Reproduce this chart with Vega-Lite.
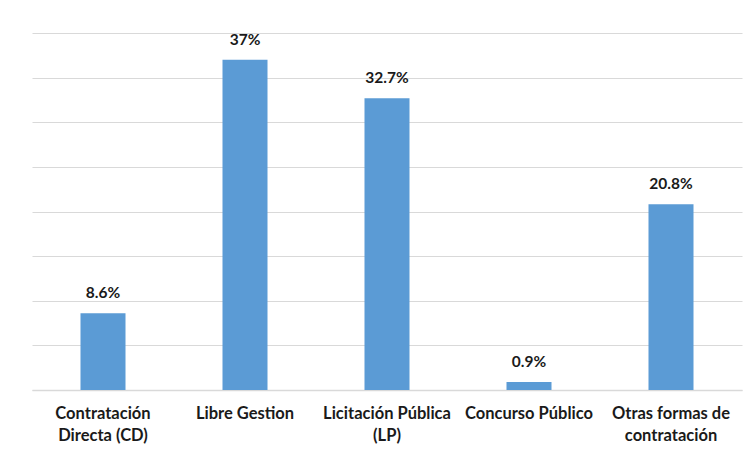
{
  "$schema": "https://vega.github.io/schema/vega-lite/v6.json",
  "width": 710,
  "height": 357,
  "autosize": {"type": "none"},
  "padding": {"left": 32, "top": 33, "right": 9, "bottom": 68},
  "background": "white",
  "config": {"view": {"stroke": null}, "font": "Lato"},
  "data": {
    "values": [
      {"cat": "Contratación|Directa (CD)", "pct": 8.6, "label": "8.6%"},
      {"cat": "Libre Gestion", "pct": 37, "label": "37%"},
      {"cat": "Licitación Pública|(LP)", "pct": 32.7, "label": "32.7%"},
      {"cat": "Concurso Público", "pct": 0.9, "label": "0.9%"},
      {"cat": "Otras formas de|contratación", "pct": 20.8, "label": "20.8%"}
    ]
  },
  "encoding": {
    "x": {
      "field": "cat", "type": "nominal", "sort": null,
      "scale": {"paddingInner": 0.683, "paddingOuter": 0.3415},
      "axis": {
        "title": null, "labelAngle": 0, "ticks": false,
        "domainColor": "#D9D9D9", "domainWidth": 1.5,
        "labelExpr": "split(datum.label, '|')",
        "labelFont": "Lato", "labelFontSize": 16.5, "labelFontWeight": "bold",
        "labelColor": "#1a1a1a", "labelPadding": 15, "labelLineHeight": 22,
        "labelBaseline": "top"
      }
    },
    "y": {
      "field": "pct", "type": "quantitative",
      "scale": {"domain": [0, 40], "nice": false},
      "axis": {
        "title": null, "labels": false, "ticks": false, "domain": false,
        "values": [0, 5, 10, 15, 20, 25, 30, 35, 40],
        "gridColor": "#D9D9D9", "gridWidth": 1
      }
    }
  },
  "layer": [
    {"mark": {"type": "bar", "color": "#5B9BD5"}},
    {
      "mark": {"type": "text", "baseline": "bottom", "dy": -12, "font": "Lato", "fontSize": 15.5, "fontWeight": "bold", "color": "#1a1a1a"},
      "encoding": {"text": {"field": "label"}}
    }
  ]
}
